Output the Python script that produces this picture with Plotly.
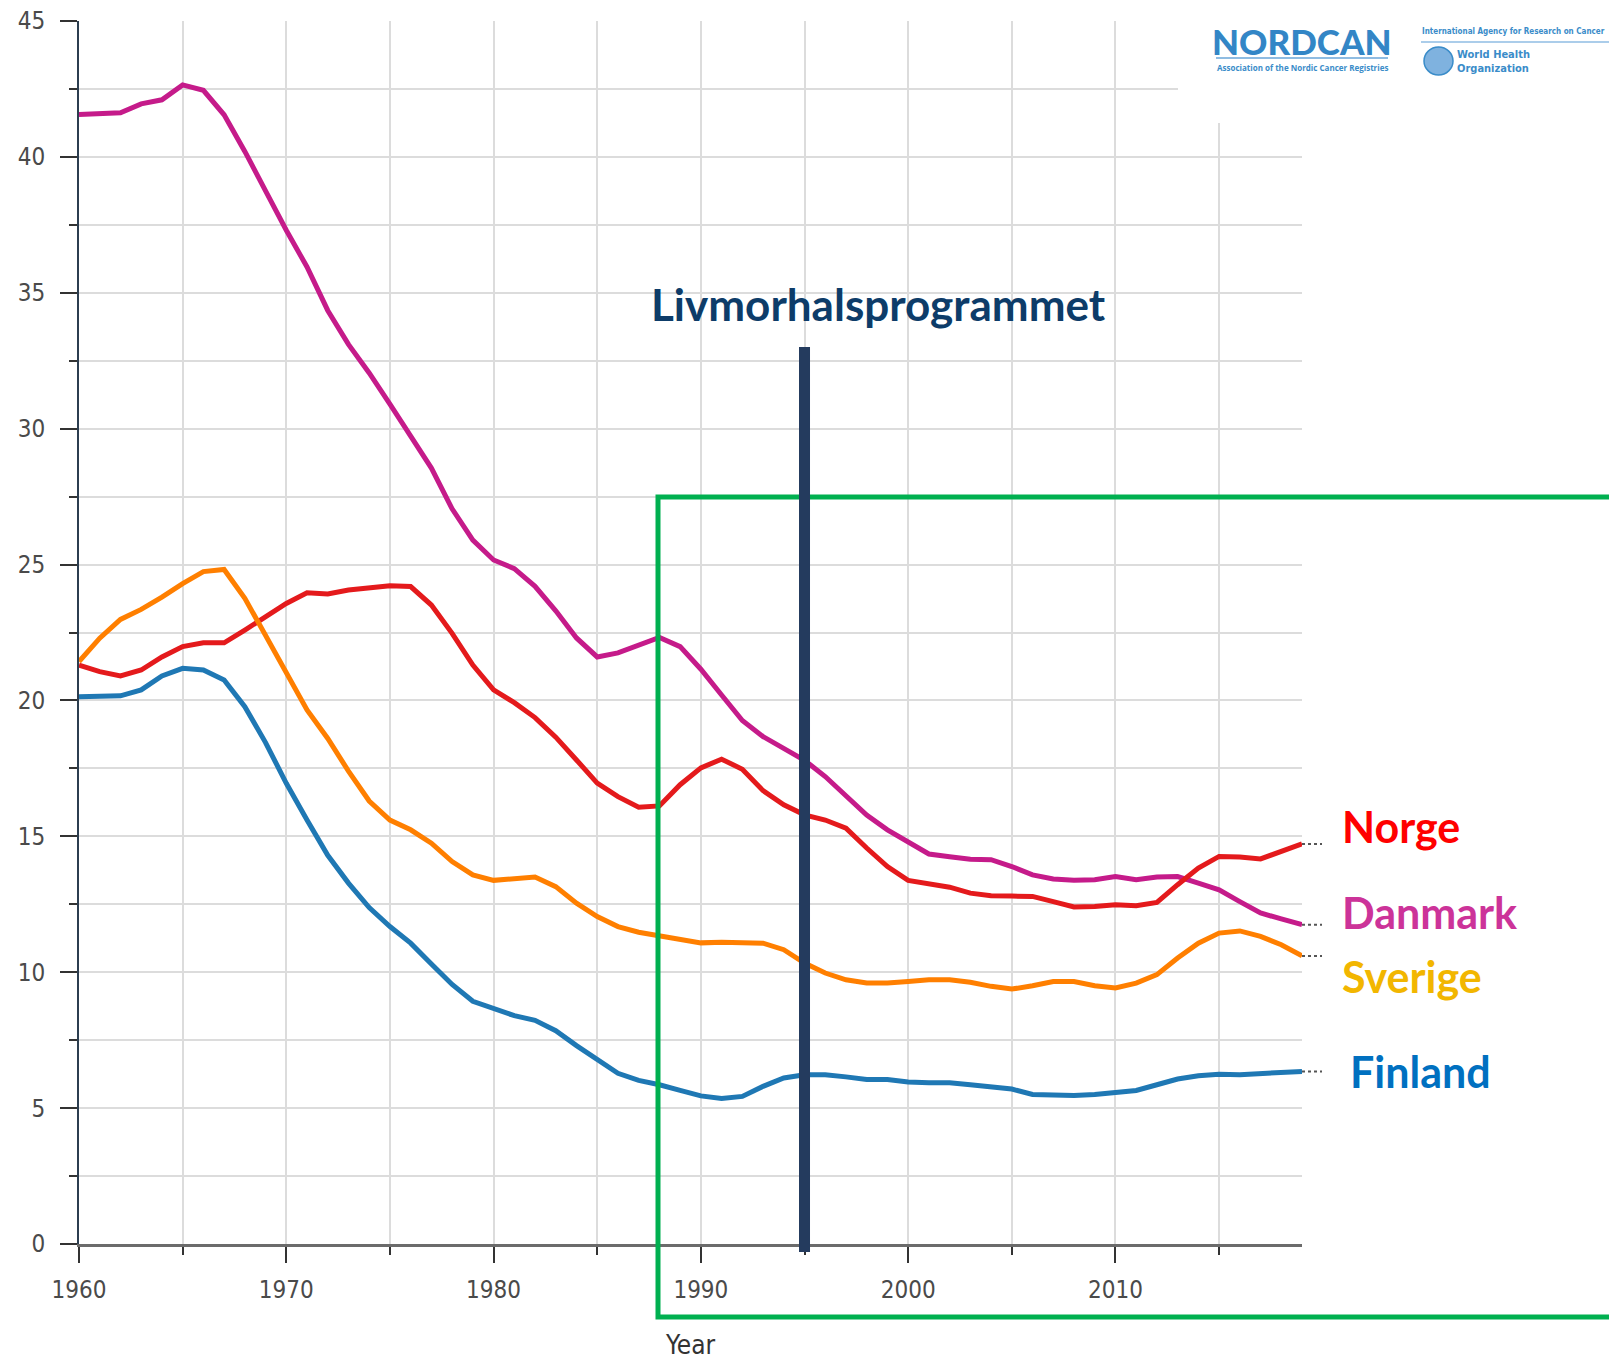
import plotly.graph_objects as go

# Years and incidence values per country
years = list(range(1960, 2020))

danmark = [41.56, 41.58, 41.62, 41.95, 42.10, 42.65, 42.45, 41.55, 40.20, 38.75,
           37.30, 35.95, 34.35, 33.10, 32.05, 30.90, 29.70, 28.55, 27.05, 25.90,
           25.17, 24.85, 24.20, 23.30, 22.30, 21.60, 21.75, 22.05, 22.32, 21.98,
           21.15, 20.20, 19.26, 18.67, 18.22, 17.80, 17.20, 16.46, 15.78, 15.24,
           14.80, 14.35, 14.25, 14.16, 14.14, 13.89, 13.58, 13.43, 13.38, 13.40,
           13.52, 13.40, 13.50, 13.52, 13.28, 13.03, 12.60, 12.18, 11.96, 11.75]

norge = [21.30, 21.06, 20.90, 21.12, 21.60, 21.98, 22.12, 22.12, 22.59, 23.08,
         23.57, 23.96, 23.92, 24.06, 24.16, 24.22, 24.19, 23.51, 22.47, 21.30,
         20.39, 19.92, 19.37, 18.65, 17.81, 16.96, 16.46, 16.07, 16.12, 16.90,
         17.52, 17.84, 17.47, 16.68, 16.16, 15.79, 15.60, 15.30, 14.57, 13.89,
         13.38, 13.25, 13.13, 12.91, 12.81, 12.80, 12.79, 12.60, 12.40, 12.42,
         12.48, 12.45, 12.57, 13.22, 13.83, 14.26, 14.24, 14.17, 14.44, 14.72]

sverige = [21.43, 22.29, 22.98, 23.35, 23.80, 24.30, 24.74, 24.82, 23.76, 22.41,
           21.00, 19.65, 18.60, 17.40, 16.30, 15.60, 15.24, 14.75, 14.07, 13.58,
           13.38, 13.43, 13.50, 13.15, 12.54, 12.05, 11.68, 11.47, 11.33, 11.18,
           11.08, 11.10, 11.10, 11.07, 10.83, 10.34, 9.97, 9.72, 9.60, 9.60,
           9.66, 9.72, 9.72, 9.63, 9.48, 9.38, 9.50, 9.66, 9.66, 9.50,
           9.42, 9.60, 9.91, 10.52, 11.07, 11.44, 11.52, 11.32, 11.01, 10.60]

finland = [20.14, 20.14, 20.17, 20.39, 20.90, 21.18, 21.12, 20.75, 19.77, 18.45,
           16.95, 15.60, 14.30, 13.28, 12.38, 11.68, 11.07, 10.30, 9.55, 8.93,
           8.68, 8.40, 8.23, 7.85, 7.30, 6.78, 6.28, 6.02, 5.86, 5.65,
           5.45, 5.35, 5.43, 5.80, 6.11, 6.23, 6.23, 6.15, 6.05, 6.05,
           5.96, 5.93, 5.93, 5.86, 5.78, 5.70, 5.50, 5.46, 5.46, 5.50,
           5.58, 5.65, 5.86, 6.07, 6.19, 6.25, 6.23, 6.27, 6.32, 6.35]

series = [
    ('Danmark', danmark, '#c51b8a'),
    ('Norge', norge, '#e41a1c'),
    ('Sverige', sverige, '#ff7f00'),
    ('Finland', finland, '#1f78b4'),
]

# Label text, colour and vertical position of the names on the right
labels = [
    ('Norge', '#ff0000', 15.35),
    ('Danmark', '#cc3399', 12.20),
    ('Sverige', '#f2b600', 9.83),
    ('Finland', '#0070c0', 6.36),
]

screening_year = 1995

# Figure geometry: the page body adds an 8px offset, so the figure is 8px
# smaller than the window on each axis. Positions below are screen pixels.
OFF = 8
W, H = 1617 - OFF, 1360 - OFF
L, R, T, B = 71, 315, 13, 116
PW = W - L - R
PH = H - T - B


def px(x):
    return (x - OFF - L) / PW


def py(y):
    return (H - B - (y - OFF)) / PH


fig = go.Figure()

for name, vals, color in series:
    fig.add_trace(go.Scatter(
        x=years,
        y=vals,
        mode='lines',
        name=name,
        line=dict(color=color, width=5),
        showlegend=False
    ))

tick_font = dict(family='DejaVu Sans Condensed, Liberation Sans Narrow, DejaVu Sans', size=24, color='#4a4a4a')

fig.update_xaxes(
    range=[1960, 2019],
    dtick=10,
    tick0=1960,
    automargin=False,
    showgrid=True,
    gridcolor='#dcdcdc',
    gridwidth=1.5,
    showline=True,
    linecolor='#6b6b6b',
    linewidth=3,
    ticks='outside',
    ticklen=16,
    tickwidth=2,
    tickcolor='#333333',
    ticklabelstandoff=6,
    ticklabeloverflow='allow',
    tickfont=tick_font,
    minor=dict(dtick=5, tick0=1960, showgrid=True, gridcolor='#dcdcdc', gridwidth=1.5,
               ticks='outside', ticklen=8, tickwidth=2, tickcolor='#333333'),
    zeroline=False,
    title=dict(text='Year', font=dict(family='DejaVu Sans Condensed, Liberation Sans Narrow, DejaVu Sans',
                                      size=26, color='#333333'), standoff=35)
)

fig.update_yaxes(
    range=[0, 45],
    dtick=5,
    automargin=False,
    showgrid=True,
    gridcolor='#dcdcdc',
    gridwidth=1.5,
    showline=True,
    linecolor='#2c3e50',
    linewidth=2,
    ticks='outside',
    ticklen=17,
    tickwidth=2,
    tickcolor='#333333',
    ticklabelstandoff=10,
    ticklabeloverflow='allow',
    tickfont=tick_font,
    minor=dict(dtick=2.5, showgrid=True, gridcolor='#dcdcdc', gridwidth=1.5,
               ticks='outside', ticklen=8, tickwidth=2, tickcolor='#333333'),
    zeroline=False
)

shapes = []

# Logo background covering the top right corner
shapes.append(dict(type='rect', xref='paper', yref='paper',
                   x0=px(1178), x1=px(1630), y0=py(123), y1=py(-5),
                   fillcolor='white', line=dict(width=0), layer='above'))

# Green highlight box
shapes.append(dict(type='rect', xref='paper', yref='paper',
                   x0=px(658), x1=px(1640), y0=py(1317), y1=py(497),
                   line=dict(color='#00b050', width=5), layer='above'))

# Screening programme line
shapes.append(dict(type='line', xref='x', yref='paper',
                   x0=screening_year, x1=screening_year, y0=py(1252), y1=py(347),
                   line=dict(color='#243b5e', width=11), layer='above'))

# Dotted connectors from line ends to the names
for name, vals, color in series:
    shapes.append(dict(type='line', xref='paper', yref='y',
                       x0=1.0, x1=px(1322), y0=vals[-1], y1=vals[-1],
                       line=dict(color='#555555', width=2, dash='dot')))

# Logo underlines and WHO emblem
shapes.append(dict(type='line', xref='paper', yref='paper',
                   x0=px(1216), x1=px(1388), y0=py(58), y1=py(58),
                   line=dict(color='#6aa6d8', width=1.5)))
shapes.append(dict(type='line', xref='paper', yref='paper',
                   x0=px(1421), x1=px(1640), y0=py(42), y1=py(42),
                   line=dict(color='#8fbde3', width=1.5)))
shapes.append(dict(type='circle', xref='paper', yref='paper',
                   x0=px(1424), x1=px(1453), y0=py(75), y1=py(47),
                   fillcolor='#7fb2df', line=dict(color='#3a8cc9', width=1.5)))

fig.update_layout(shapes=shapes)

annotations = []

annotations.append(dict(
    text='<b>Livmorhalsprogrammet</b>', xref='paper', yref='paper',
    x=px(878), y=py(304), xanchor='center', yanchor='middle', showarrow=False,
    font=dict(family='Lato', size=44, color='#0d3c69')
))

for name, color, ypos in labels:
    xpos = 1348 if name == 'Finland' else 1340
    annotations.append(dict(
        text=f'<b>{name}</b>', xref='paper', yref='y',
        x=px(xpos), y=ypos, xanchor='left', yanchor='middle', showarrow=False,
        font=dict(family='Lato', size=43, color=color)
    ))

# Logo texts
logo_blue = '#3a8cc9'
annotations.append(dict(
    text='NORDCAN', xref='paper', yref='paper',
    x=px(1302), y=py(41), xanchor='center', yanchor='middle', showarrow=False,
    font=dict(family='Lato', size=35, color='#3386c6', weight=900)
))
annotations.append(dict(
    text='<b>Association of the Nordic Cancer Registries</b>', xref='paper', yref='paper',
    x=px(1302), y=py(68), xanchor='center', yanchor='middle', showarrow=False,
    font=dict(family='Open Sans', size=8, color=logo_blue)
))
annotations.append(dict(
    text='<b>International Agency for Research on Cancer</b>', xref='paper', yref='paper',
    x=px(1420), y=py(32), xanchor='left', yanchor='middle', showarrow=False,
    font=dict(family='Liberation Sans Narrow, DejaVu Sans Condensed, Roboto', size=8, color=logo_blue)
))
annotations.append(dict(
    text='<b>World Health<br>Organization</b>', xref='paper', yref='paper',
    x=px(1455), y=py(62), xanchor='left', yanchor='middle', showarrow=False, align='left',
    font=dict(family='Liberation Sans Narrow, DejaVu Sans Condensed, Roboto', size=11, color=logo_blue)
))

fig.update_layout(
    annotations=annotations,
    width=W,
    height=H,
    margin=dict(l=L, r=R, t=T, b=B),
    plot_bgcolor='white',
    paper_bgcolor='white',
    showlegend=False
)

fig.write_html('out.html')
